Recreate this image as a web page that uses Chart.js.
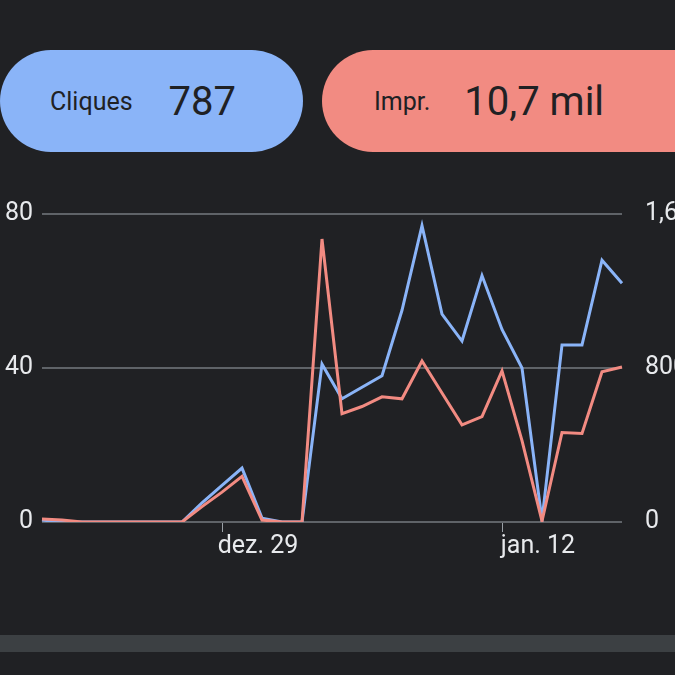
<!DOCTYPE html>
<html><head><meta charset="utf-8">
<script src="https://cdn.jsdelivr.net/npm/chart.js@4"></script>
<style>
html,body{margin:0;padding:0;background:#202124;width:675px;height:675px;overflow:hidden;font-family:Roboto,sans-serif;position:relative}
.pill{position:absolute;top:50px;height:102px;border-radius:51px;color:#202124;display:flex;align-items:center}
.pill .l{font-size:25px}.pill .v{font-size:40px}
#c1{left:0;width:303px;background:#8ab4f8}
#c2{left:322px;width:353px;background:#f28b82;border-radius:51px 0 0 51px}
#wrap{position:absolute;left:-20px;top:184px;width:720px;height:378px}
#bar{position:absolute;left:0;top:635px;width:675px;height:17px;background:#3c4043}
</style></head><body>
<div class="pill" id="c1"><span class="l" style="margin-left:50px">Cliques</span><span class="v" style="margin-left:36px">787</span></div>
<div class="pill" id="c2"><span class="l" style="margin-left:52px">Impr.</span><span class="v" style="margin-left:34px">10,7 mil</span></div>
<div id="wrap"><canvas id="ch"></canvas></div>
<div id="bar"></div>
<script>
const labels=[];for(let i=0;i<30;i++)labels.push(i===9?'dez. 29':(i===23?'jan. 12':''));
const clicks=[0.5,0,0,0,0,0,0,0,5,9.5,14,1,0,0,41,32,35,38,55,77,54,47,64,50,40,0.5,46,46,68,62];
const impr=[15,10,0,0,0,0,0,0,80,155,237,10,0,0,1470,563,600,650,640,836,670,505,547,785,423,5,465,460,780,805];
const leftTicks=[0,40,80], rightTicks=[0,800,1600];
const F={family:'Roboto',size:25};
new Chart(document.getElementById('ch'),{type:'line',
data:{labels,datasets:[
{data:impr,borderColor:'#f28b82',borderWidth:3,pointRadius:0,yAxisID:'y2',tension:0},
{data:clicks,borderColor:'#8ab4f8',borderWidth:3,pointRadius:0,yAxisID:'y',tension:0}]},
options:{animation:false,responsive:true,maintainAspectRatio:false,
layout:{padding:{top:14}},
plugins:{legend:{display:false},tooltip:{enabled:false}},
scales:{
x:{grid:{display:true,drawOnChartArea:false,tickLength:10,color:c=>(c.index===9||c.index===23)?'#9aa0a6':'rgba(0,0,0,0)'},border:{display:false},
 ticks:{autoSkip:false,maxRotation:0,labelOffset:36,color:'#e8eaed',font:F,padding:0}},
y:{position:'left',min:0,max:80,afterBuildTicks:a=>{a.ticks=leftTicks.map(v=>({value:v}))},afterFit:a=>{a.width=62},
 grid:{color:'#5f6368',lineWidth:2,drawTicks:false},border:{display:false},ticks:{color:'#e8eaed',font:F,padding:9}},
y2:{position:'right',min:0,max:1600,afterBuildTicks:a=>{a.ticks=rightTicks.map(v=>({value:v}))},afterFit:a=>{a.width=78},
 grid:{display:false},border:{display:false},ticks:{color:'#e8eaed',font:F,padding:15,callback:v=>v>=1000?(v/1000).toLocaleString('pt-BR')+' mil':String(v)}}
}}});
</script></body></html>
